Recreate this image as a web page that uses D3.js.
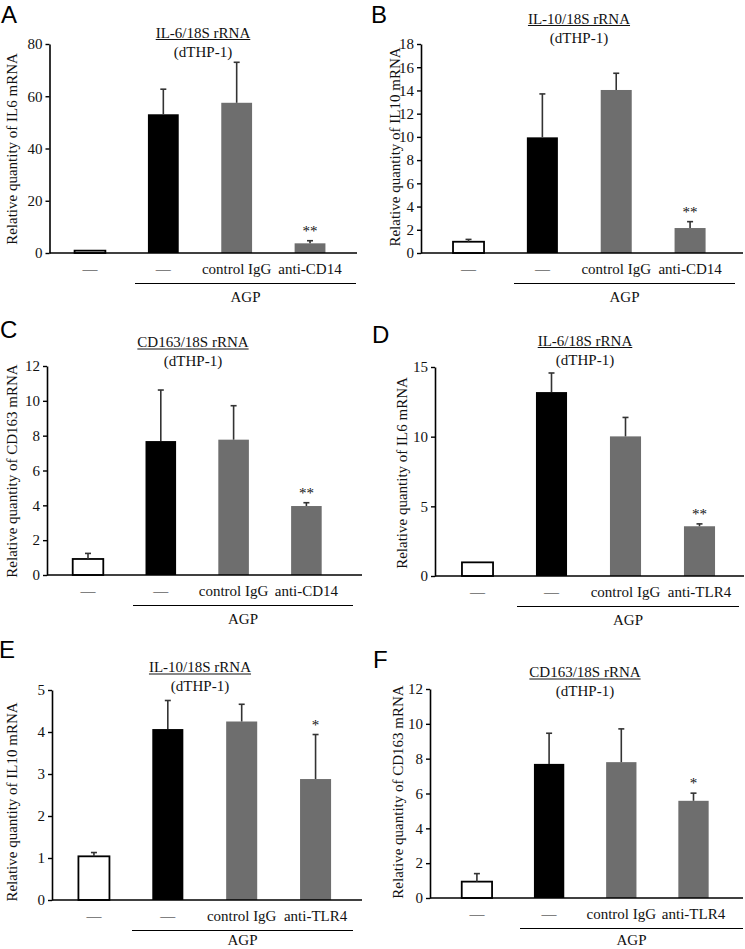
<!DOCTYPE html>
<html>
<head>
<meta charset="utf-8">
<script src="https://cdn.jsdelivr.net/npm/d3@7"></script>
<style>
body { margin: 0; background: #fff; }
svg text { font-family: "Liberation Serif", "Times New Roman", serif; font-size: 15px; fill: #111; }
svg text.letter { font-family: "Liberation Sans", Arial, sans-serif; font-size: 24px; fill: #000; }
</style>
</head>
<body>
<div id="fig"></div>
<script>
// treatment groups (x categories)
var groupsCD14 = ["\u2014", "\u2014", "control IgG", "anti-CD14"];
var groupsTLR4 = ["\u2014", "\u2014", "control IgG", "anti-TLR4"];
var barFills = ["#ffffff", "#000000", "#6e6e6e", "#6e6e6e"];

// means and upper error (SD)
var meanA = [0.9, 53.1, 57.5, 3.7];
var sdA   = [0, 9.6, 15.5, 1.0];
var meanB = [0.97, 9.96, 14.04, 2.15];
var sdB   = [0.2, 3.74, 1.44, 0.55];
var meanC = [0.92, 7.69, 7.77, 3.96];
var sdC   = [0.32, 2.93, 1.95, 0.19];
var meanD = [0.98, 13.2, 10.02, 3.57];
var sdD   = [0, 1.37, 1.36, 0.17];
var meanE = [1.04, 4.07, 4.25, 2.88];
var sdE   = [0.09, 0.68, 0.41, 1.06];
var meanF = [0.94, 7.70, 7.80, 5.58];
var sdF   = [0.46, 1.76, 1.91, 0.44];

// significance marks
var starsA = ["", "", "", "**"];
var starsB = ["", "", "", "**"];
var starsC = ["", "", "", "**"];
var starsD = ["", "", "", "**"];
var starsE = ["", "", "", "*"];
var starsF = ["", "", "", "*"];

// titles / axis labels
var titles = ["IL-6/18S rRNA", "IL-10/18S rRNA", "CD163/18S rRNA", "IL-6/18S rRNA", "IL-10/18S rRNA", "CD163/18S rRNA"];
var yLabels = ["Relative quantity of IL6 mRNA", "Relative quantity of IL10 mRNA", "Relative quantity of CD163 mRNA",
               "Relative quantity of IL6 mRNA", "Relative quantity of IL10 mRNA", "Relative quantity of CD163 mRNA"];
var yMax  = [80, 18, 12, 15, 5, 12];
var yStep = [20, 2, 2, 5, 1, 2];

var svg = d3.select("div#fig").append("svg")
            .attr("width", 745)
            .attr("height", 949);

// panel placement
var panels = [
  {letter: "A", lx: 1,   lyy: 22.5, ax: 49.5, axEnd: 357, y0: 253, yTop: 44,  bx0: 53.3,  bx1: 346.7, agp0: 135, agp1: 356, tx: 203, ty: 37.5, ylx: 17,  yly: 149, groups: groupsCD14, mean: meanA, sd: sdA, stars: starsA},
  {letter: "B", lx: 371, lyy: 22.5, ax: 421,  axEnd: 743, y0: 253, yTop: 44,  bx0: 431.6, bx1: 727,   agp0: 514, agp1: 735, tx: 579, ty: 23.5, ylx: 400, yly: 147, groups: groupsCD14, mean: meanB, sd: sdB, stars: starsB},
  {letter: "C", lx: 0,   lyy: 338, ax: 47,   axEnd: 362, y0: 575, yTop: 366, bx0: 51.6,  bx1: 342.8, agp0: 133, agp1: 353, tx: 193, ty: 347, ylx: 17,  yly: 471, groups: groupsCD14, mean: meanC, sd: sdC, stars: starsC},
  {letter: "D", lx: 372, lyy: 343, ax: 435,  axEnd: 744, y0: 576, yTop: 367, bx0: 440.5, bx1: 736.5, agp0: 517, agp1: 739, tx: 585, ty: 345.5, ylx: 407, yly: 473, groups: groupsTLR4, mean: meanD, sd: sdD, stars: starsD},
  {letter: "E", lx: -1,  lyy: 658, ax: 52,   axEnd: 362, y0: 900, yTop: 690, bx0: 57,    bx1: 352.5, agp0: 132, agp1: 353, tx: 200, ty: 672, ylx: 17,  yly: 802, groups: groupsTLR4, mean: meanE, sd: sdE, stars: starsE},
  {letter: "F", lx: 373, lyy: 668, ax: 430,  axEnd: 743, y0: 898, yTop: 689, bx0: 440.8, bx1: 729.6, agp0: 520, agp1: 743, tx: 585, ty: 677, ylx: 403, yly: 792, groups: groupsTLR4, mean: meanF, sd: sdF, stars: starsF}
];

panels.forEach(function(p, k) {
    var g = svg.append("g");

    var y = d3.scaleLinear().domain([0, yMax[k]]).range([p.y0, p.yTop]);
    var x = d3.scaleBand().domain(d3.range(4)).range([p.bx0, p.bx1])
              .paddingInner(0.58).paddingOuter(0.29);

    var rows = p.mean.map(function(m, i) {
        return {i: i, mean: m, sd: p.sd[i], label: p.groups[i], star: p.stars[i], fill: barFills[i]};
    });

    // panel letter
    g.append("text").attr("class", "letter")
        .attr("x", p.lx).attr("y", p.lyy).text(p.letter);

    // title, underlined
    var t = g.append("text").attr("x", p.tx).attr("y", p.ty)
        .attr("text-anchor", "middle").text(titles[k]);
    var w = t.node().getComputedTextLength();
    g.append("line")
        .attr("x1", p.tx - w / 2).attr("x2", p.tx + w / 2)
        .attr("y1", p.ty + 2).attr("y2", p.ty + 2)
        .attr("stroke", "#111").attr("stroke-width", 1);
    g.append("text").attr("x", p.tx).attr("y", p.ty + 19)
        .attr("text-anchor", "middle").text("(dTHP-1)");

    // y axis
    var yAxis = d3.axisLeft(y)
        .tickValues(d3.range(0, yMax[k] + yStep[k] / 2, yStep[k]))
        .tickFormat(d3.format("d"))
        .tickSize(4).tickSizeOuter(0).tickPadding(3);
    var ya = g.append("g").attr("transform", "translate(" + p.ax + ",0)").call(yAxis);
    ya.attr("font-family", null).attr("font-size", null);
    ya.select(".domain").attr("stroke", "#000").attr("stroke-width", 1.6);
    ya.selectAll(".tick line").attr("stroke", "#000").attr("stroke-width", 1.4);

    g.append("text")
        .attr("transform", "translate(" + p.ylx + "," + p.yly + ") rotate(-90)")
        .attr("text-anchor", "middle").text(yLabels[k]);

    // bars
    g.selectAll("rect.bar").data(rows).enter().append("rect")
        .classed("bar", true)
        .attr("x", function(d) { return x(d.i); })
        .attr("width", x.bandwidth())
        .attr("y", function(d) { return y(d.mean); })
        .attr("height", function(d) { return y(0) - y(d.mean); })
        .attr("fill", function(d) { return d.fill; })
        .attr("stroke", function(d) { return d.i == 0 ? "#000" : "none"; })
        .attr("stroke-width", 1.8);

    // error bars (upper only)
    var eb = g.selectAll("g.err").data(rows.filter(function(d) { return d.sd > 0; }))
        .enter().append("g").classed("err", true);
    eb.append("line")
        .attr("x1", function(d) { return x(d.i) + x.bandwidth() / 2; })
        .attr("x2", function(d) { return x(d.i) + x.bandwidth() / 2; })
        .attr("y1", function(d) { return y(d.mean); })
        .attr("y2", function(d) { return y(d.mean + d.sd); })
        .attr("stroke", "#333").attr("stroke-width", 1.6);
    eb.append("line")
        .attr("x1", function(d) { return x(d.i) + x.bandwidth() / 2 - 3; })
        .attr("x2", function(d) { return x(d.i) + x.bandwidth() / 2 + 3; })
        .attr("y1", function(d) { return y(d.mean + d.sd); })
        .attr("y2", function(d) { return y(d.mean + d.sd); })
        .attr("stroke", "#333").attr("stroke-width", 1.6);

    // stars
    g.selectAll("text.star").data(rows.filter(function(d) { return d.star; }))
        .enter().append("text").classed("star", true)
        .attr("x", function(d) { return x(d.i) + x.bandwidth() / 2; })
        .attr("y", function(d) { return y(d.mean + d.sd) - 5; })
        .attr("text-anchor", "middle")
        .text(function(d) { return d.star; });

    // x axis baseline
    g.append("line")
        .attr("x1", p.ax).attr("x2", p.axEnd)
        .attr("y1", p.y0).attr("y2", p.y0)
        .attr("stroke", "#000").attr("stroke-width", 1.6);

    // category labels
    g.selectAll("text.cat").data(rows).enter().append("text").classed("cat", true)
        .attr("x", function(d) { return x(d.i) + x.bandwidth() / 2; })
        .attr("y", p.y0 + 21)
        .attr("text-anchor", "middle")
        .text(function(d) { return d.label; });

    // AGP bracket
    g.append("line")
        .attr("x1", p.agp0).attr("x2", p.agp1)
        .attr("y1", p.y0 + 30.5).attr("y2", p.y0 + 30.5)
        .attr("stroke", "#000").attr("stroke-width", 1.2);
    g.append("text")
        .attr("x", (p.agp0 + p.agp1) / 2).attr("y", Math.min(p.y0 + 49, 945))
        .attr("text-anchor", "middle").text("AGP");
});
</script>
</body>
</html>
